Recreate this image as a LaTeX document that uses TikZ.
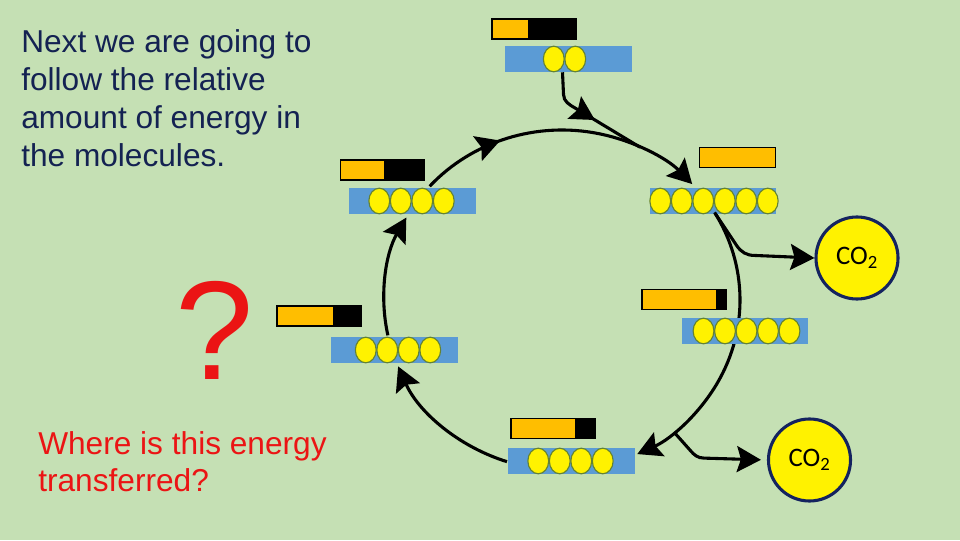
\documentclass[tikz,border=0pt]{standalone}
\usepackage{fontspec}
\setmainfont{Liberation Sans}
\newfontfamily\carlito{Carlito}
\usepackage{tikz}
\usetikzlibrary{arrows.meta,positioning,calc,shapes.geometric,decorations.markings}
\definecolor{slide}{RGB}{197,224,180}
\definecolor{gold}{RGB}{255,190,0}
\definecolor{molblue}{RGB}{91,155,213}
\definecolor{beadrim}{RGB}{100,130,50}
\definecolor{rim}{RGB}{20,35,95}
\definecolor{ink}{RGB}{20,34,82}
\definecolor{alert}{RGB}{235,20,20}

\begin{document}
\begin{tikzpicture}[x=0.025cm,y=0.025cm,>={Stealth[length=6mm,width=6.5mm,inset=1mm]},
  mol/.style={rectangle,fill=molblue,minimum width=3.15cm,minimum height=0.65cm,inner sep=0pt},
  bead/.style={ellipse,draw=beadrim,line width=0.8pt,fill=yellow,minimum width=0.52cm,minimum height=0.64cm,inner sep=0pt},
  bar/.style={rectangle,draw=black,fill=black,line width=1pt,minimum width=2.1cm,minimum height=0.49cm,inner sep=0pt,
    path picture={\fill[gold] (path picture bounding box.south west) rectangle ($(path picture bounding box.north west)+(#1,0)$);}},
  co/.style={circle,draw=rim,line width=2.2pt,fill=yellow,minimum size=2.05cm,inner sep=0pt,font=\carlito\fontsize{19}{21}\selectfont},
  cyc/.style={line width=2.2pt,black},
  ar/.style={cyc,->},
  mid/.style={postaction={decorate},decoration={markings,mark=at position #1 with {\arrow{>}}}},
  orbit/.style={x radius=178,y radius=170}]
\path[fill=slide,use as bounding box] (0,0) rectangle (960,540);
% the cycle
\coordinate (c) at (562,240);
\foreach \n/\a in {top6/138,top2/43,bot2/31,side4/-65,left4/252,bot5/203,top5/192,bot6/151,joinin/64,joinout/-51}
  \coordinate (\n) at ($(c)+(\a:178 and 170)$);
\draw[ar,mid=0.29] (top6) arc[orbit,start angle=138,end angle=43];
\draw[ar] (bot2) arc[orbit,start angle=31,end angle=-65];
\draw[ar] (left4) arc[orbit,start angle=252,end angle=203];
\draw[ar] (top5) arc[orbit,start angle=192,end angle=151];
% molecules
\node[mol] (m1) at (568.5,481) {};
\node[mol] (m2) at (713,339) {};
\node[mol] (m3) at (745,209) {};
\node[mol] (m4) at (571.5,79) {};
\node[mol] (m5) at (394.5,190) {};
\node[mol] (m6) at (412.5,339) {};
\foreach \m/\k/\dx in {m1/2/-4,m2/6/1,m3/5/1.5,m4/4/-1,m5/4/3.5,m6/4/-1}
  \foreach \i in {1,...,\k}
    \node[bead] (\m-\i) at ($(\m)+({(\i-(\k+1)/2)*21.5+\dx},0)$) {};
% energy bars
\node[bar=36] (b1) at (534,511) {};
\node[bar=76,minimum width=1.9cm] (b2) at (737.5,382.5) {};
\node[bar=74] (b3) at (684,240.5) {};
\node[bar=64] (b4) at (553,111.5) {};
\node[bar=56] (b5) at (319,224) {};
\node[bar=44] (b6) at (382.5,370) {};
\draw[cyc,mid=0.55] ($(m1.south)+(-6,0)$) -- ++(1,-22) to[out=-90,in=150] ++(12,-14) -- (joinin);
% carbon dioxide
\node[co] (co2a) at (857,282) {CO\textsubscript{2}};
\node[co] (co2b) at (809.5,80) {CO\textsubscript{2}};
\draw[ar] (bot2) -- ++(22,-33) to[out=-56,in=180] ++(18,-10) -- (co2a.west);
\draw[ar,shorten >=1.5mm] (joinout) -- ++(16,-18) to[out=-50,in=180] ++(14,-8) -- (co2b.west);
% texts
\node[anchor=north west,align=left,inner sep=0pt,text=ink,font=\fontsize{22.5}{27}\selectfont] (intro) at (21,511)
  {Next we are going to\\follow the relative\\amount of energy in\\the molecules.};
\node[text=alert,anchor=base,inner sep=0pt,font=\fontsize{100}{100}\selectfont] (qm) at (215,160) {?};
\node[anchor=north west,align=left,inner sep=0pt,text=alert,font=\fontsize{22.5}{26.5}\selectfont] (ask) at (38,109)
  {Where is this energy\\transferred?};
\end{tikzpicture}
\end{document}
